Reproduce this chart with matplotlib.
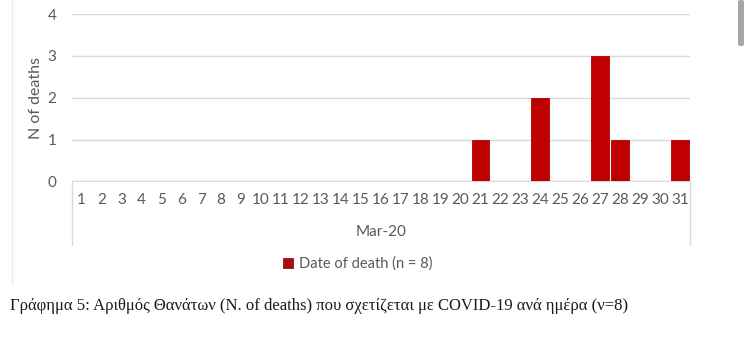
import matplotlib
matplotlib.use("Agg")
import matplotlib.pyplot as plt
from matplotlib.patches import FancyBboxPatch

# data (deaths per day, March 2020)
days = [str(d) for d in range(1, 32)]
deaths = [0, 0, 0, 0, 0, 0, 0, 0, 0, 0,
          0, 0, 0, 0, 0, 0, 0, 0, 0, 0,
          1, 0, 0, 2, 0, 0, 3, 1, 0, 0, 1]
yticks = [0, 1, 2, 3, 4]
month_label = "Mar-20"
legend_label = "Date of death (n = 8)"
caption = "Γράφημα 5: Αριθμός Θανάτων (N. of deaths) που σχετίζεται με COVID-19 ανά ημέρα (ν=8)"

W, H = 750, 346
GRID = "#d9d9d9"; TXT = "#595959"; RED = "#c00000"
SANS = ["Lato", "DejaVu Sans"]

fig = plt.figure(figsize=(W/100, H/100), dpi=100)
L, R, T, B = 71.5, 690, 14, 181.5
ax = fig.add_axes([L/W, 1-B/H, (R-L)/W, (B-T)/H])

x = list(range(len(days)))
bars = ax.bar(x, deaths, width=0.9, color=RED, edgecolor="#b00000", lw=0.6, zorder=3)
ax.set_xlim(-0.5, len(days)-0.5)
ax.set_ylim(0, 4)
ax.set_yticks(yticks)
ax.set_yticklabels([str(t) for t in yticks], fontsize=11, color=TXT, family=SANS)
ax.set_xticks(x)
ax.set_xticklabels(days, fontsize=11, color=TXT, family=SANS)
ax.tick_params(axis="both", length=0)
ax.tick_params(axis="y", pad=11)
ax.tick_params(axis="x", pad=8)
ax.yaxis.grid(True, color=GRID, lw=1, zorder=0)
for s in ["left", "right", "top"]:
    ax.spines[s].set_visible(False)
ax.spines["bottom"].set_color(GRID)
ax.set_ylabel("N of deaths", fontsize=11.5, color=TXT, family=SANS, labelpad=3)

# category box lines (multi-level axis)
box_bottom = -(245-181.5)/(B-T)
for xx in (0, 1):
    ax.plot([xx, xx], [0, box_bottom], transform=ax.transAxes, color=GRID,
            lw=1, clip_on=False)
ax.text(0.5, -(232-181.5)/(B-T), month_label, transform=ax.transAxes,
        ha="center", va="center", fontsize=11, color=TXT, family=SANS)

leg = fig.legend([bars], [legend_label], loc="center", bbox_to_anchor=(358/W, 1-264/H),
                 frameon=False, handlelength=0.7, handleheight=0.7, handletextpad=0.4,
                 prop={"family": SANS, "size": 10.5})
for t in leg.get_texts():
    t.set_color(TXT)
for h in leg.legend_handles:
    h.set_facecolor("#a50e0e"); h.set_edgecolor("#a50e0e")

# chart border (left edge visible in the screenshot)
fig.add_artist(plt.Line2D([12/W, 12/W], [1, 1-285/H], color="#ececec", lw=1))

fig.text(10/W, 1-306/H, caption, ha="left", va="center", fontsize=12,
         family="Liberation Serif", color="#1a1a1a")

# scrollbar from the screenshot
fig.add_artist(FancyBboxPatch((738/W, 1-46/H), 6/W, 46/H, boxstyle="round,pad=0,rounding_size=0.004",
                              transform=fig.transFigure, facecolor="#a6a6a6", edgecolor="none"))

fig.savefig("out.png", dpi=100)
